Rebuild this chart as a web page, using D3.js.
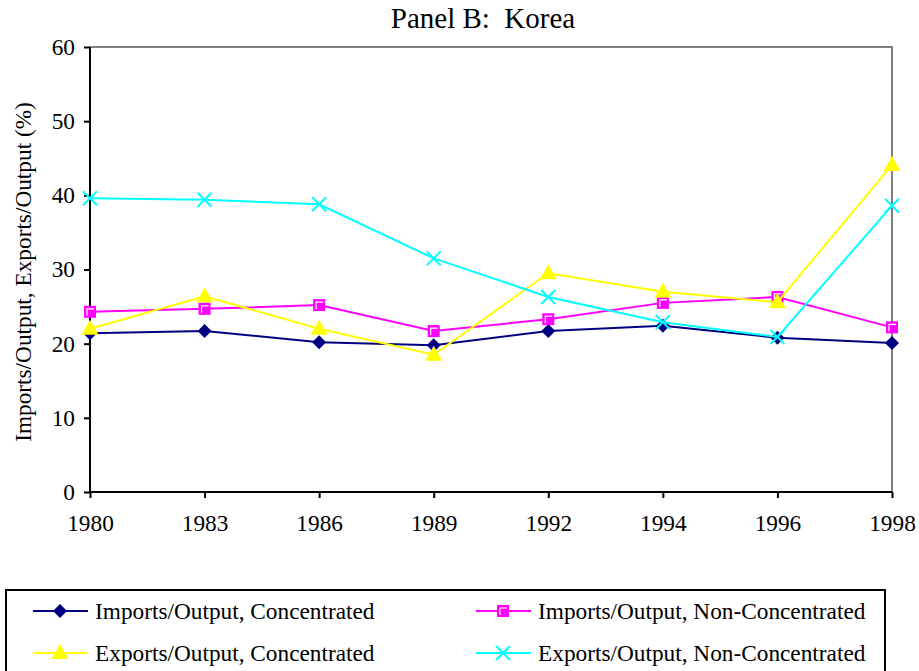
<!DOCTYPE html>
<html>
<head>
<meta charset="utf-8">
<script src="https://cdn.jsdelivr.net/npm/d3@7"></script>
<style>
  body { margin: 0; background: #fff; }
  svg, svg text { font-family: "Liberation Serif", "Times New Roman", serif; }
  svg { display: block; }
</style>
</head>
<body>
<svg id="chart" width="919" height="671"></svg>
<script>
// chart data
const years = ['1980', '1983', '1986', '1989', '1992', '1994', '1996', '1998'];
const importsConc = [21.4, 21.7, 20.2, 19.8, 21.7, 22.4, 20.8, 20.1];
const importsNonConc = [24.3, 24.7, 25.2, 21.7, 23.3, 25.5, 26.3, 22.2];
const exportsConc = [22.0, 26.4, 22.0, 18.5, 29.5, 27.0, 25.6, 44.1];
const exportsNonConc = [39.6, 39.4, 38.8, 31.5, 26.3, 22.9, 20.9, 38.6];
const yTicks = [0, 10, 20, 30, 40, 50, 60];

const series = [
    { name: 'Imports/Output, Concentrated', values: importsConc, color: '#000080', marker: 'diamond' },
    { name: 'Imports/Output, Non-Concentrated', values: importsNonConc, color: '#ff00ff', marker: 'square' },
    { name: 'Exports/Output, Concentrated', values: exportsConc, color: '#ffff00', marker: 'triangle' },
    { name: 'Exports/Output, Non-Concentrated', values: exportsNonConc, color: '#00ffff', marker: 'cross' }
];

const svg = d3.select('#chart');
const plotLeft = 90, plotRight = 892, plotTop = 47, plotBottom = 492;
const fontSize = 23.3;

const x = d3.scalePoint().domain(years).range([plotLeft, plotRight]).padding(0);
const y = d3.scaleLinear().domain([0, 60]).range([plotBottom, plotTop]);

// title
svg.append('text')
    .attr('x', 483).attr('y', 28)
    .attr('text-anchor', 'middle')
    .attr('font-size', 29)
    .attr('xml:space', 'preserve')
    .text('Panel B:  Korea');

// gray top / right frame
svg.append('path')
    .attr('d', `M${plotLeft},${plotTop}H${plotRight}V${plotBottom}`)
    .attr('fill', 'none')
    .attr('stroke', '#808080')
    .attr('stroke-width', 2);

// axes
const yAxis = svg.append('g')
    .attr('transform', `translate(${plotLeft},0)`)
    .call(d3.axisLeft(y).tickValues(yTicks).tickSize(6).tickPadding(9));
const xAxis = svg.append('g')
    .attr('transform', `translate(0,${plotBottom})`)
    .call(d3.axisBottom(x).tickSize(6).tickPadding(16));

[yAxis, xAxis].forEach(g => {
    g.attr('font-family', null).attr('font-size', fontSize);
    g.select('.domain').attr('stroke', '#000').attr('stroke-width', 2);
    g.selectAll('.tick line').attr('stroke', '#000').attr('stroke-width', 2);
    g.selectAll('.tick text')
        .style('font-family', '"Liberation Serif", serif')
        .attr('font-size', fontSize)
        .attr('fill', '#000');
});
// keep domain lines flat (no outer ticks)
yAxis.select('.domain').attr('d', `M0,${plotBottom}V${plotTop}`);
xAxis.select('.domain').attr('d', `M${plotLeft},0H${plotRight}`);

// y axis title
svg.append('text')
    .attr('transform', `translate(31,272) rotate(-90)`)
    .attr('text-anchor', 'middle')
    .attr('font-size', fontSize)
    .text('Imports/Output, Exports/Output (%)');

function drawMarker(g, type, color, cx, cy) {
    if (type === 'diamond') {
        g.append('path')
            .attr('d', `M${cx},${cy - 7}L${cx + 7},${cy}L${cx},${cy + 7}L${cx - 7},${cy}Z`)
            .attr('fill', color);
    } else if (type === 'square') {
        g.append('rect')
            .attr('x', cx - 6).attr('y', cy - 6)
            .attr('width', 12).attr('height', 12)
            .attr('fill', color);
        g.append('path')
            .attr('d', `M${cx - 3},${cy + 4}V${cy - 3}H${cx + 4}`)
            .attr('fill', 'none')
            .attr('stroke', '#fff')
            .attr('stroke-width', 1.2);
    } else if (type === 'triangle') {
        g.append('path')
            .attr('d', `M${cx},${cy - 9}L${cx + 8.5},${cy + 6}L${cx - 8.5},${cy + 6}Z`)
            .attr('fill', color);
    } else if (type === 'cross') {
        g.append('path')
            .attr('d', `M${cx - 7},${cy - 7}L${cx + 7},${cy + 7}M${cx - 7},${cy + 7}L${cx + 7},${cy - 7}`)
            .attr('stroke', color)
            .attr('stroke-width', 2);
    }
}

const line = d3.line()
    .x((d, i) => x(years[i]))
    .y(d => y(d));

series.forEach(s => {
    const g = svg.append('g');
    g.append('path')
        .datum(s.values)
        .attr('d', line)
        .attr('fill', 'none')
        .attr('stroke', s.color)
        .attr('stroke-width', 2);
    s.values.forEach((v, i) => drawMarker(g, s.marker, s.color, x(years[i]), y(v)));
});

// legend
const legend = svg.append('g');
legend.append('rect')
    .attr('x', 6).attr('y', 590)
    .attr('width', 879).attr('height', 100)
    .attr('fill', 'none')
    .attr('stroke', '#000')
    .attr('stroke-width', 2);

const legendPos = [
    { x: 33, y: 611 }, { x: 476, y: 611 },
    { x: 33, y: 653 }, { x: 476, y: 653 }
];

series.forEach((s, i) => {
    const p = legendPos[i];
    const g = legend.append('g');
    g.append('line')
        .attr('x1', p.x).attr('x2', p.x + 55)
        .attr('y1', p.y).attr('y2', p.y)
        .attr('stroke', s.color)
        .attr('stroke-width', 2);
    drawMarker(g, s.marker, s.color, p.x + 27, p.y);
    g.append('text')
        .attr('x', p.x + 62).attr('y', p.y + 7.5)
        .attr('font-size', fontSize)
        .text(s.name);
});
</script>
</body>
</html>
